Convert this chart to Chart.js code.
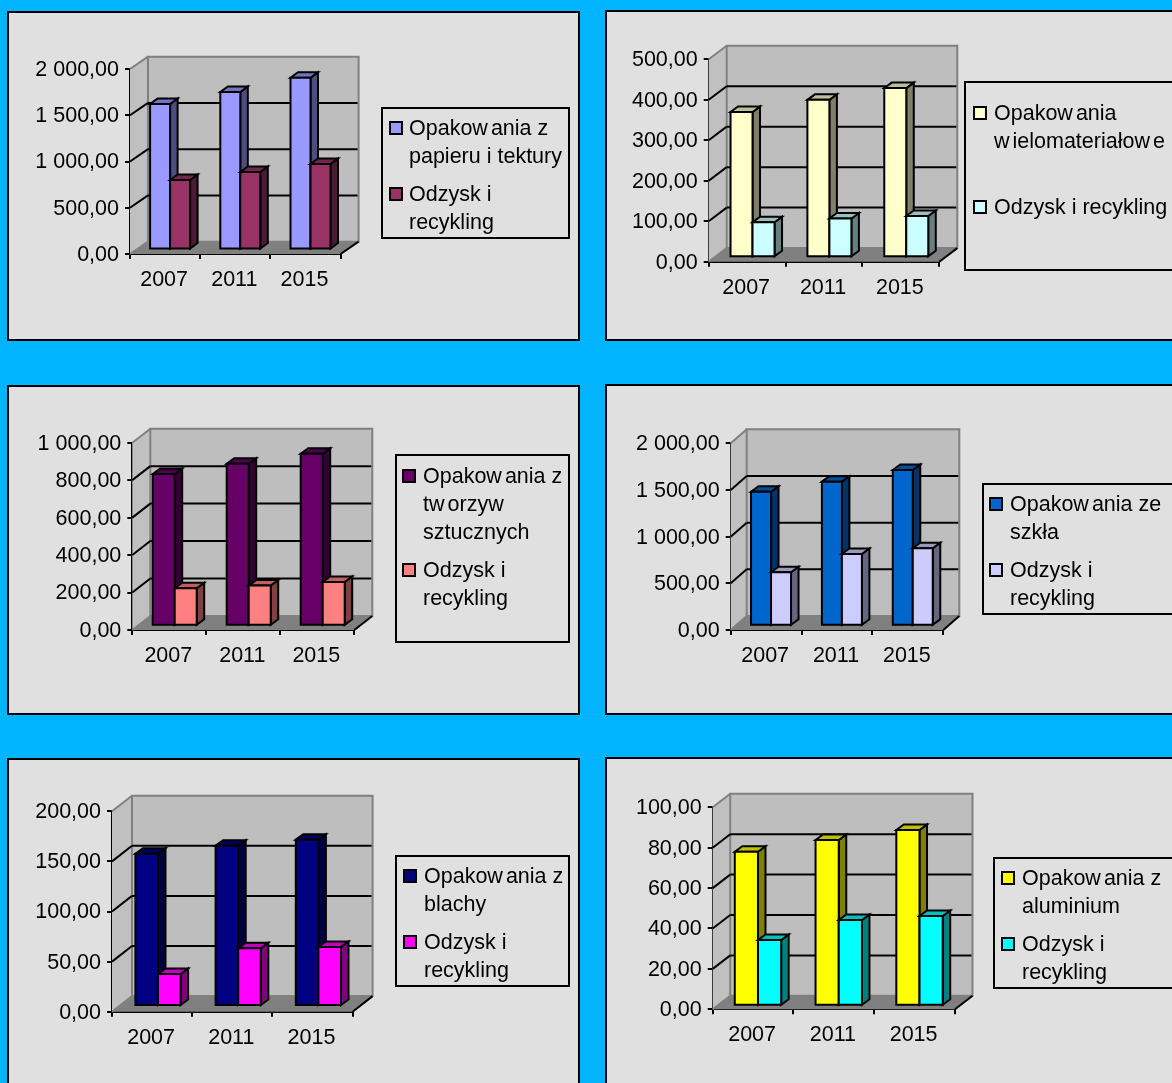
<!DOCTYPE html>
<html lang="pl">
<head>
<meta charset="utf-8">
<title>Opakowania i recykling</title>
<script src="https://cdn.jsdelivr.net/npm/chart.js@4"></script>
<style>
html,body{margin:0;padding:0;width:1172px;height:1083px;overflow:hidden;background:#00B4FF;}
.panel{position:absolute;box-sizing:border-box;background:#E0E0E0;filter:blur(0.4px);}
.frame{position:absolute;left:0;top:0;right:0;bottom:0;border:2px solid #000;box-sizing:border-box;pointer-events:none;}
canvas{position:absolute;left:0;top:0;}
.legend{position:absolute;border:2px solid #000;box-sizing:border-box;}
.line{position:absolute;font:21.5px "Liberation Sans",Arial,sans-serif;color:#000;white-space:nowrap;line-height:28px;height:28px;}
.line b{font-weight:normal;letter-spacing:3px;}
.swatch{position:absolute;width:14px;height:14px;box-sizing:border-box;border:2px solid #000;}
</style>
</head>
<body>
<script>
// ---- data ----
const categories = ['2007', '2011', '2015'];

const paperValues     = [1573, 1703, 1857];
const paperRecycled   = [751, 838, 924];
const mixedValues     = [359, 389, 418];
const mixedRecycled   = [86.5, 96, 102];
const plasticValues   = [810, 865, 918];
const plasticRecycled = [200, 214, 233];
const glassValues     = [1435, 1543, 1668];
const glassRecycled   = [572, 768, 829];
const steelValues     = [152, 160, 166];
const steelRecycled   = [32, 57.6, 59];
const aluValues       = [76.2, 82, 87];
const aluRecycled     = [32.5, 42.4, 44.4];

const paperTicks   = [0, 500, 1000, 1500, 2000];
const mixedTicks   = [0, 100, 200, 300, 400, 500];
const plasticTicks = [0, 200, 400, 600, 800, 1000];
const glassTicks   = [0, 500, 1000, 1500, 2000];
const steelTicks   = [0, 50, 100, 150, 200];
const aluTicks     = [0, 20, 40, 60, 80, 100];

const paperLabel    = ['Opakowania z', 'papieru i tektury'];
const mixedLabel    = ['Opakowania', 'wielomateriałowe'];
const plasticLabel  = ['Opakowania z', 'tworzyw', 'sztucznych'];
const glassLabel    = ['Opakowania ze', 'szkła'];
const steelLabel    = ['Opakowania z', 'blachy'];
const aluLabel      = ['Opakowania z', 'aluminium'];
const recycledLabel = ['Odzysk i', 'recykling'];
const recycledOneLine = ['Odzysk i recykling'];

// ---- one row per chart ----
const charts = [
  {a: paperValues,   b: paperRecycled,   ticks: paperTicks,   la: paperLabel,   lb: recycledLabel},
  {a: mixedValues,   b: mixedRecycled,   ticks: mixedTicks,   la: mixedLabel,   lb: recycledOneLine},
  {a: plasticValues, b: plasticRecycled, ticks: plasticTicks, la: plasticLabel, lb: recycledLabel},
  {a: glassValues,   b: glassRecycled,   ticks: glassTicks,   la: glassLabel,   lb: recycledLabel},
  {a: steelValues,   b: steelRecycled,   ticks: steelTicks,   la: steelLabel,   lb: recycledLabel},
  {a: aluValues,     b: aluRecycled,     ticks: aluTicks,     la: aluLabel,     lb: recycledLabel}
];

// ---- styles ----
const palette = [
  ['#9999FF', '#993366'], ['#FFFFCC', '#CCFFFF'], ['#660066', '#FF8080'],
  ['#0066CC', '#CCCCFF'], ['#000080', '#FF00FF'], ['#FFFF00', '#00FFFF']
];

// ---- layout, in page pixels ----
const frames = [
  {L:7,  T:11,  R:580,  B:341,  x0:130,   y0:254,    top:69,    x1:340.6, dx:18,   dy:12.3, ox:5,   oy:4.5, w:20,
   box:[381,107,570,239],  sw:389,  tx:409,  ys:[128,194]},
  {L:605,T:10,  R:1180, B:341,  x0:708.7, y0:261.7,  top:59.3,  x1:939.3, dx:18,   dy:13.6, ox:5.4, oy:4.4, w:22,
   box:[964,81,1180,271],  sw:973,  tx:994,  ys:[113,207]},
  {L:7,  T:385, R:580,  B:715,  x0:132.3, y0:630,    top:442.7, x1:354.3, dx:18,   dy:14,   ox:5.4, oy:4.3, w:22,
   box:[395,454,570,643],  sw:402,  tx:423,  ys:[476,570]},
  {L:605,T:384, R:1180, B:715,  x0:730.7, y0:630,    top:443.3, x1:943.3, dx:16,   dy:14,   ox:4.9, oy:4.3, w:20,
   box:[982,483,1180,615], sw:989,  tx:1010, ys:[504,570]},
  {L:7,  T:758, R:580,  B:1095, x0:112,   y0:1011.7, top:811.3, x1:352.6, dx:20,   dy:15.6, ox:5.9, oy:5.7, w:22.6,
   box:[395,855,570,987],  sw:403,  tx:424,  ys:[876,942]},
  {L:605,T:757, R:1180, B:1095, x0:712.7, y0:1009.3, top:807.3, x1:955,   dx:17.5, dy:13.5, ox:4.9, oy:3.6, w:23.2,
   box:[993,857,1180,989], sw:1001, tx:1022, ys:[878,944]}
];
const barDepthX = 7.5, barDepthY = 5.5, lineH = 28, edge = 2;
const FONT = '"Liberation Sans", Arial, sans-serif';

function shade(hex, k) {
  const n = parseInt(hex.slice(1), 16);
  const c = s => Math.round(((n >> s) & 255) * k);
  return 'rgb(' + c(16) + ',' + c(8) + ',' + c(0) + ')';
}
function formatTick(v) {
  const s = v.toFixed(2).split('.');
  return s[0].replace(/\B(?=(\d{3})+$)/g, ' ') + ',' + s[1];
}
function poly(ctx, pts, fill, stroke, lw) {
  ctx.beginPath();
  pts.forEach((p, i) => i ? ctx.lineTo(p[0], p[1]) : ctx.moveTo(p[0], p[1]));
  ctx.closePath();
  if (fill) { ctx.fillStyle = fill; ctx.fill(); }
  if (stroke) { ctx.strokeStyle = stroke; ctx.lineWidth = lw; ctx.lineJoin = 'miter'; ctx.stroke(); }
}
function seg(ctx, x1, y1, x2, y2, color, lw) {
  ctx.beginPath(); ctx.moveTo(x1, y1); ctx.lineTo(x2, y2);
  ctx.strokeStyle = color; ctx.lineWidth = lw; ctx.stroke();
}

// draws the room (walls, floor, grid) and the 3D faces of each bar from the library's scales
const room3d = {
  id: 'room3d',
  beforeDatasetsDraw(chart, args, o) {
    const ctx = chart.ctx, xs = chart.scales.x, ys = chart.scales.y;
    const l = xs.left, r = xs.right, t = ys.top, b = ys.bottom, dx = o.dx, dy = o.dy;
    ctx.save();
    poly(ctx, [[l, b], [l + dx, b - dy], [r + dx, b - dy], [r, b]], '#808080');
    poly(ctx, [[l, t], [l + dx, t - dy], [l + dx, b - dy], [l, b]], '#C0C0C0');
    poly(ctx, [[l + dx, t - dy], [r + dx, t - dy], [r + dx, b - dy], [l + dx, b - dy]], '#BEBEBE', '#808080', 2);
    seg(ctx, l, t, l + dx, t - dy, '#808080', 2);
    seg(ctx, l, b, l + dx, b - dy, '#808080', 2);
    ys.ticks.forEach(tk => {
      const y = ys.getPixelForValue(tk.value);
      if (tk.value === ys.min || tk.value === ys.max) return;
      seg(ctx, l, y, l + dx, y - dy, '#000', edge);
      seg(ctx, l + dx, y - dy, r + dx - 1, y - dy, '#000', edge);
    });
    seg(ctx, r, b, r + dx, b - dy, '#000', edge);
    ctx.restore();
    ctx.save();
    ctx.translate(o.ox, -o.oy);
  },
  afterDatasetsDraw(chart) {
    const ctx = chart.ctx;
    chart.data.datasets.forEach((ds, i) => {
      chart.getDatasetMeta(i).data.forEach(bar => {
        const p = bar.getProps(['x', 'y', 'base', 'width'], true);
        const a = p.x - p.width / 2, c = p.x + p.width / 2;
        poly(ctx, [[c, p.y], [c + barDepthX, p.y - barDepthY], [c + barDepthX, p.base - barDepthY], [c, p.base]],
          shade(ds.backgroundColor, 0.5), '#000', edge);
        poly(ctx, [[a, p.y], [a + barDepthX, p.y - barDepthY], [c + barDepthX, p.y - barDepthY], [c, p.y]],
          shade(ds.backgroundColor, 0.75), '#000', edge);
        poly(ctx, [[a, p.y], [c, p.y], [c, p.base], [a, p.base]], ds.backgroundColor, '#000', edge);
      });
    });
    ctx.restore();
  }
};

function addLegend(panel, f, spec, colors) {
  const box = document.createElement('div');
  box.className = 'legend';
  box.style.cssText = 'left:' + (f.box[0] - f.L) + 'px;top:' + (f.box[1] - f.T) + 'px;width:' +
    (f.box[2] - f.box[0]) + 'px;height:' + (f.box[3] - f.box[1]) + 'px';
  panel.appendChild(box);
  [spec.la, spec.lb].forEach((lines, i) => {
    const sw = document.createElement('div');
    sw.className = 'swatch';
    sw.style.cssText = 'left:' + (f.sw - f.L) + 'px;top:' + (f.ys[i] - 7 - f.T) + 'px;background:' + colors[i];
    panel.appendChild(sw);
    lines.forEach((txt, j) => {
      const el = document.createElement('div');
      el.className = 'line';
      el.style.left = (f.tx - f.L) + 'px';
      el.style.top = (f.ys[i] + j * lineH - lineH / 2 - f.T) + 'px';
      el.innerHTML = txt.replace(/w/g, '<b>w</b>');
      panel.appendChild(el);
    });
  });
}

charts.forEach((spec, idx) => {
  const f = frames[idx], colors = palette[idx];
  const W = f.R - f.L, H = f.B - f.T;
  const panel = document.createElement('div');
  panel.className = 'panel';
  panel.style.cssText = 'left:' + f.L + 'px;top:' + f.T + 'px;width:' + W + 'px;height:' + H + 'px';
  document.body.appendChild(panel);
  const cv = document.createElement('canvas');
  cv.width = W; cv.height = H;
  cv.style.width = W + 'px'; cv.style.height = H + 'px';
  panel.appendChild(cv);
  addLegend(panel, f, spec, colors);
  const fr = document.createElement('div');
  fr.className = 'frame';
  panel.appendChild(fr);

  const tickFont = {family: FONT, size: 21.5};
  new Chart(cv, {
    type: 'bar',
    data: {
      labels: categories,
      datasets: [
        {label: spec.la.join(' '), data: spec.a, backgroundColor: colors[0], borderWidth: 0, clip: false, barThickness: f.w},
        {label: spec.lb.join(' '), data: spec.b, backgroundColor: colors[1], borderWidth: 0, clip: false, barThickness: f.w}
      ]
    },
    plugins: [room3d],
    options: {
      responsive: false,
      animation: false,
      devicePixelRatio: 1,
      layout: {padding: {left: 0, top: f.top - f.T, right: W - (f.x1 - f.L), bottom: 0}},
      plugins: {
        legend: {display: false},
        title: {display: false},
        tooltip: {enabled: false},
        room3d: {dx: f.dx, dy: f.dy, ox: f.ox, oy: f.oy}
      },
      scales: {
        x: {
          z: 1,
          offset: true,
          grid: {offset: true, drawOnChartArea: false, drawTicks: true, tickLength: 5, color: '#000', lineWidth: 2},
          border: {color: '#000', width: 2},
          ticks: {font: tickFont, color: '#000', padding: 8, labelOffset: -1, maxRotation: 0, autoSkip: false},
          afterFit(s) { s.height = f.B - f.y0; s.paddingLeft = s.paddingRight = s.paddingTop = s.paddingBottom = 0; }
        },
        y: {
          z: 1,
          min: spec.ticks[0],
          max: spec.ticks[spec.ticks.length - 1],
          afterBuildTicks(s) { s.ticks = spec.ticks.map(v => ({value: v})); },
          grid: {drawOnChartArea: false, drawTicks: true, tickLength: 5, color: '#000', lineWidth: 2},
          border: {color: '#000', width: 2},
          ticks: {font: tickFont, color: '#000', padding: 6, labelOffset: 1, callback: v => formatTick(v)},
          afterFit(s) { s.width = f.x0 - f.L; s.paddingLeft = s.paddingRight = s.paddingTop = s.paddingBottom = 0; }
        }
      }
    }
  });
});
</script>
</body>
</html>
